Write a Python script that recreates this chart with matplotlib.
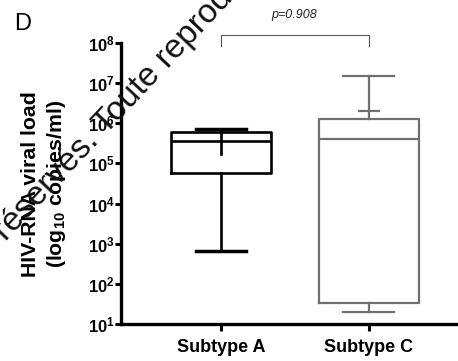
import math
import matplotlib
matplotlib.use("Agg")
import matplotlib.pyplot as plt
from matplotlib.ticker import FixedLocator, FuncFormatter, NullLocator

plt.rcParams['font.family'] = ['Liberation Sans', 'DejaVu Sans']
plt.rcParams['mathtext.fontset'] = 'custom'
plt.rcParams['mathtext.rm'] = 'Liberation Sans:bold'
plt.rcParams['mathtext.bf'] = 'Liberation Sans:bold'
plt.rcParams['mathtext.it'] = 'Liberation Sans:bold'

# ---- data ----
categories = ["Subtype A", "Subtype C"]
q1 = [5.9e4, 33]
median = [3.54e5, 4.11e5]
q3 = [6.14e5, 1.29e6]
whisker_low = [673, 20]
whisker_high = [7.16e5, 1.47e7]
extra_cap_C = 2.04e6             # small secondary cap above Subtype C box
inner_line_A = [6.14e5, 1.74e5]  # short vertical line drawn inside Subtype A box
p_text = "p=0.908"
ytick_exps = [1, 2, 3, 4, 5, 6, 7, 8]

colors = ["#000000", "#707070"]

W, H = 458, 361
fig = plt.figure(figsize=(W / 100, H / 100), dpi=100)
x_left, x_right, y_top, y_bot = 121, 458, 43, 324
ax = fig.add_axes([x_left / W, (H - y_bot) / H, (x_right - x_left) / W, (y_bot - y_top) / H])
ax.set_yscale('log')
ax.set_ylim(10, 1e8)
px_per_unit = 148.0
pos = [1, 2]
ax.set_xlim(1 - (221 - x_left) / px_per_unit, 1 + (x_right - 221) / px_per_unit)

box_w = 100 / px_per_unit
cap_w = 51 / px_per_unit
small_cap_w = 22 / px_per_unit
for i in range(2):
    stats = [dict(med=median[i], q1=q1[i], q3=q3[i], whislo=whisker_low[i],
                  whishi=whisker_high[i], fliers=[])]
    lw = 1.9 if i == 0 else 1.6
    c = colors[i]
    ax.bxp(stats, positions=[pos[i]], widths=box_w, capwidths=cap_w, showfliers=False,
           boxprops=dict(color=c, linewidth=lw),
           medianprops=dict(color=c, linewidth=lw),
           whiskerprops=dict(color=c, linewidth=lw),
           capprops=dict(color=c, linewidth=lw + (0.6 if i == 0 else 0)))

# extra marks
ax.plot([pos[1] - small_cap_w / 2, pos[1] + small_cap_w / 2], [extra_cap_C] * 2,
        color=colors[1], lw=1.6, solid_capstyle='butt')
ax.plot([pos[0], pos[0]], inner_line_A, color=colors[0], lw=1.9)

# spines
for s in ['top', 'right']:
    ax.spines[s].set_visible(False)
ax.spines['left'].set_linewidth(2.4)
ax.spines['bottom'].set_linewidth(2.4)
ax.spines['left'].set_capstyle('projecting')

ax.yaxis.set_major_locator(FixedLocator([10.0 ** e for e in ytick_exps]))
ax.yaxis.set_minor_locator(NullLocator())
ax.yaxis.set_major_formatter(FuncFormatter(lambda v, p: r'$\mathbf{10^{%d}}$' % round(math.log10(v))))
ax.tick_params(axis='y', which='major', length=4, width=2.2, labelsize=12, pad=0.5)
ax.set_xticks(pos)
ax.set_xticklabels(categories, fontweight='bold', fontsize=13)
ax.tick_params(axis='x', length=5, width=2.2, pad=6)

# y label (two lines)
fig.text(31 / W, 1 - 184 / H, "HIV-RNA viral load", rotation=90, ha='center', va='center',
         fontsize=15.3, fontweight='bold')
fig.text(56 / W, 1 - 184 / H, r"(log$_{\mathregular{10}}$ copies/ml)", rotation=90, ha='center', va='center',
         fontsize=15.3, fontweight='bold')

# significance bracket
yb_top = 10 ** (8 + (43 - 35) / 40.1)
yb_bot = 10 ** (8 - (46 - 43) / 40.1)
ax.plot([pos[0], pos[0], pos[1], pos[1]], [yb_bot, yb_top, yb_top, yb_bot],
        color='#555555', lw=0.8, clip_on=False)
fig.text(294 / W, 1 - 15 / H, p_text, ha='center', va='center', fontsize=9, style='italic', color='#222222')

# panel letter
fig.text(22.5 / W, 1 - 24 / H, "D", ha='center', va='center', fontsize=17)

# watermark
ang = 46.8
fig.text(106 / W, 1 - 135 / H, "Toute reproduction interdite", rotation=ang, ha='left', va='baseline',
         fontsize=24, color='#111111', rotation_mode='anchor')
fig.text(99.5 / W, 1 - 142 / H, "Droits réservés.", rotation=ang, ha='right', va='baseline',
         fontsize=24, color='#111111', rotation_mode='anchor')

fig.savefig("out.png", dpi=100)
